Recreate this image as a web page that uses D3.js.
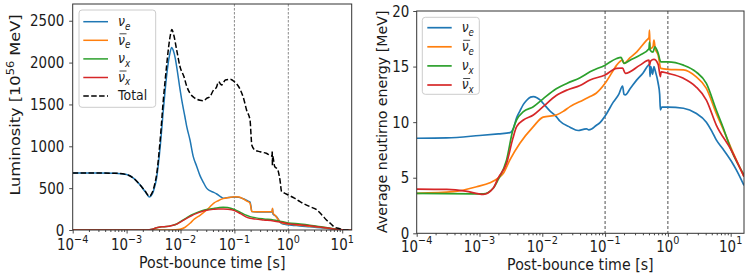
<!DOCTYPE html>
<html><head><meta charset="utf-8">
<script src="https://cdn.jsdelivr.net/npm/d3@7"></script>
<style>body{margin:0;background:#fff} text{font-family:"DejaVu Sans",sans-serif}</style>
</head><body><svg id="c" width="747" height="275"></svg>
<script>
// ---------- Left panel: luminosity [10^56 MeV] ----------
const lumNueT = [1e-4,3e-4,6e-4,1e-3,1.34e-3,1.77e-3,2.2e-3,2.65e-3,3.0e-3,3.3e-3,3.6e-3,4.2e-3,4.8e-3,5.5e-3,6.0e-3,6.4e-3,6.85e-3,7.3e-3,8.0e-3,8.5e-3,9.8e-3,0.0105,0.0121,0.013,0.015,0.0172,0.020,0.023,0.0265,0.0305,0.035,0.041,0.047,0.055,0.062,0.072,0.085,0.1,0.12,0.15,0.18,0.195,0.205,0.21,0.3,0.4,0.5,0.51,0.52,0.56,0.6,0.65,0.7,0.8,1.0,1.3,1.65,2.5,3.4,5,7,10,15];
const lumNueV = [680,680,678,662,620,540,460,395,430,510,620,995,1430,1830,2020,2120,2180,2150,2050,1950,1680,1560,1350,1240,1075,880,760,650,570,500,470,450,430,400,380,385,390,395,390,370,345,335,260,220,215,215,215,255,190,175,160,130,95,70,62,55,48,38,30,20,10,3,0];
const lumNuebT = [1e-4,5e-3,8e-3,9.8e-3,0.012,0.015,0.018,0.023,0.0305,0.035,0.041,0.05,0.062,0.08,0.1,0.12,0.14,0.17,0.195,0.205,0.21,0.3,0.4,0.5,0.51,0.52,0.56,0.6,0.65,0.7,0.8,1.0,1.65,2.5,3.4,5,7,10,15];
const lumNuebV = [0,0,3,8,30,80,130,175,239,275,319,350,375,388,398,395,378,345,320,250,220,218,218,220,260,200,180,155,125,99,80,72,58,45,38,25,12,3,0];
const lumNuxT = [1e-4,2.4e-3,3e-3,3.6e-3,4.5e-3,5.5e-3,7e-3,8.5e-3,0.01,0.013,0.016,0.02,0.025,0.0305,0.041,0.05,0.062,0.075,0.1,0.13,0.16,0.195,0.25,0.35,0.53,0.7,1.0,1.65,2.5,3.4,5,7,10,15];
const lumNuxV = [0,0,10,27,38,42,55,72,100,145,180,208,230,245,258,266,272,268,245,210,180,160,145,132,120,105,85,72,58,45,30,15,3,0];
const lumNuxbT = lumNuxT;
const lumNuxbV = [0,0,10,27,38,42,55,70,95,138,170,198,220,235,247,252,252,248,232,195,160,140,130,120,108,95,75,62,50,40,27,13,3,0];
const lumTotT = [1e-4,3e-4,6e-4,1e-3,1.34e-3,1.77e-3,2.2e-3,2.65e-3,3.0e-3,3.3e-3,3.6e-3,4.2e-3,4.8e-3,5.5e-3,6.0e-3,6.5e-3,6.9e-3,7.5e-3,8.5e-3,0.0098,0.0116,0.013,0.015,0.018,0.023,0.027,0.0305,0.035,0.041,0.046,0.051,0.055,0.058,0.068,0.083,0.1,0.125,0.15,0.168,0.195,0.205,0.21,0.24,0.3,0.39,0.5,0.503,0.507,0.512,0.56,0.6,0.64,0.7,0.75,0.85,1.0,1.3,1.65,2.5,3.4,4.2,5.1,6,7,9,11,15];
const lumTotV = [680,680,678,662,620,540,465,405,450,540,660,1080,1553,1950,2180,2330,2396,2330,2150,1950,1831,1720,1633,1580,1550,1545,1573,1592,1672,1700,1771,1745,1732,1792,1800,1771,1692,1560,1433,1314,1100,1015,955,935,916,884,950,770,884,756,740,717,600,460,440,418,380,338,280,239,180,120,80,40,15,0,0];
const lumTicks = [0,500,1000,1500,2000,2500];

// ---------- Right panel: average neutrino energy [MeV] ----------
const eNueT = [1e-4,3e-4,1e-3,2e-3,3.05e-3,3.5e-3,3.9e-3,4.4e-3,5e-3,5.6e-3,6.5e-3,7.2e-3,8.2e-3,9.2e-3,0.0103,0.0133,0.0167,0.019,0.0276,0.0373,0.045,0.0507,0.055,0.061,0.072,0.083,0.1,0.135,0.165,0.19,0.2,0.21,0.25,0.32,0.4,0.49,0.51,0.52,0.535,0.57,0.6,0.63,0.7,0.74,0.76,0.8,1.0,1.77,2.8,4.1,5,5.9,7.5,10.2,12.3,16.3];
const eNueV = [8.55,8.58,8.8,8.95,9.05,9.5,10.4,11.0,11.6,11.95,12.25,12.3,12.2,12.0,11.7,11.0,10.5,10.1,9.55,9.25,9.35,9.4,9.3,9.38,9.7,9.95,10.55,11.8,12.5,13.25,12.5,12.45,13.0,13.8,14.4,15.13,15.2,14.1,15.0,14.3,15.0,14.6,13.5,12.5,11.1,11.35,11.35,11.25,10.8,10.0,9.2,8.4,7.6,6.5,5.7,4.3];
const eNuebT = [1e-4,3.84e-4,9e-4,1.47e-3,1.97e-3,2.4e-3,3.05e-3,4.4e-3,7.2e-3,1.03e-2,1.67e-2,2.2e-2,2.76e-2,4.5e-2,5.75e-2,7.2e-2,0.1,0.13,0.153,0.19,0.2,0.25,0.32,0.46,0.5,0.51,0.52,0.58,0.6,0.63,0.7,0.77,1.0,1.77,2.8,4.1,5.9,7.5,10.2,16.3];
const eNuebV = [3.6,3.75,4.19,4.55,4.95,5.4,6.6,8.1,9.6,10.45,10.64,11.0,11.4,12.0,12.3,12.6,13.49,14.5,15.13,15.58,15.28,15.8,16.33,17.38,17.6,18.28,16.6,16.8,17.38,16.6,16.03,14.84,14.75,14.7,14.09,13.04,10.79,9.44,7.64,5.1];
const eNuxT = [1e-4,1.15e-3,1.65e-3,1.97e-3,2.7e-3,3.4e-3,3.9e-3,5e-3,7.2e-3,1.03e-2,1.67e-2,2.5e-2,4e-2,5.75e-2,0.1,0.153,0.18,0.2,0.25,0.36,0.5,0.51,0.52,0.58,0.62,0.7,0.77,1.0,1.77,2.8,4.1,5.9,7.5,10.2,16.3];
const eNuxV = [3.6,3.55,4.05,4.8,6.6,9.29,10.2,10.94,11.39,12.1,13.0,13.5,14.0,14.53,15.13,15.73,15.82,15.28,15.58,16.03,16.6,17.2,16.5,16.3,16.78,16.2,15.43,15.43,15.13,14.53,13.49,11.09,9.59,7.49,5.25];
const eNuxbT = [1e-4,3e-4,6e-4,1.15e-3,1.65e-3,1.97e-3,2.7e-3,3.4e-3,3.9e-3,5e-3,7.2e-3,1.03e-2,1.67e-2,2.5e-2,4e-2,5.75e-2,0.1,0.153,0.19,0.21,0.36,0.5,0.51,0.53,0.6,0.7,0.76,0.78,1.0,1.77,2.8,4.1,5.9,10.2,16.3];
const eNuxbV = [3.98,3.95,3.8,3.5,4.05,4.95,6.3,8.54,9.6,10.19,10.64,11.39,12.4,12.9,13.3,13.79,14.24,14.84,14.87,14.39,15.13,15.58,15.1,15.5,15.64,15.2,14.1,14.53,14.39,13.94,13.18,11.99,9.74,7.49,5.1];
const eTicks = [0,5,10,15,20];

const xMajor = [-4,-3,-2,-1,0,1];   // exponents of 10
const vLines = [0.1, 1];

const C = {nue:"#1f77b4", nueb:"#ff7f0e", nux:"#2ca02c", nuxb:"#d62728", tot:"#000"};

const svg = d3.select("#c");
svg.append("rect").attr("width",747).attr("height",275).attr("fill","#fff");
const INK = "#1a1a1a";

function addText(parent, x, y, size, anchor, rot, stretch){
  let tr = `translate(${x},${y})`;
  tr += rot ? ` rotate(${rot}) scale(${stretch},1)` : ` scale(1,${stretch})`;
  return parent.append("text").attr("transform",tr).attr("font-size",size)
    .attr("text-anchor",anchor).attr("fill",INK);
}
function nuLabel(t, sub, size){
  t.append("tspan").attr("font-style","italic").text("ν");
  t.append("tspan").attr("font-style","italic").attr("font-size",size*0.7).attr("dy",size*0.25).text(sub);
}

function panel(cfg){
  const g = svg.append("g");
  const x = d3.scaleLog().domain([1e-4,cfg.xmax]).range([cfg.l,cfg.r]);
  const y = d3.scaleLinear().domain([0,cfg.ymax]).range([cfg.b,cfg.t]);
  const id = "clip"+cfg.name;
  svg.append("clipPath").attr("id",id).append("rect")
    .attr("x",cfg.l).attr("y",cfg.t).attr("width",cfg.r-cfg.l).attr("height",cfg.b-cfg.t);
  const pg = g.append("g").attr("clip-path",`url(#${id})`);
  pg.selectAll("line.v").data(vLines).join("line")
    .attr("x1",d=>x(d)).attr("x2",d=>x(d)).attr("y1",cfg.t).attr("y2",cfg.b)
    .attr("stroke",cfg.vColor).attr("stroke-width",cfg.vWidth).attr("stroke-dasharray",cfg.vDash);
  const line = d3.line().x(d=>x(d[0])).y(d=>y(d[1])).curve(d3.curveMonotoneX);
  cfg.series.forEach(s=>{
    pg.append("path").datum(d3.zip(s.t,s.v)).attr("d",line)
      .attr("fill","none").attr("stroke",s.c).attr("stroke-width",cfg.lw)
      .attr("stroke-linejoin","round")
      .attr("stroke-dasharray",s.dash||null);
  });
  const minors=[];
  for(let e=-4;e<=1;e++) for(let m=2;m<=9;m++){const v=+(m+"e"+e); if(v<=cfg.xmax) minors.push(v);}
  const ax1 = g.append("g").attr("transform",`translate(0,${cfg.b})`)
    .call(d3.axisBottom(x).tickValues(minors).tickSize(2).tickFormat(""));
  ax1.select(".domain").remove();
  const ax2 = g.append("g").attr("transform",`translate(0,${cfg.b})`)
    .call(d3.axisBottom(x).tickValues(xMajor.map(e=>Math.pow(10,e))).tickSize(3.5).tickFormat(""));
  ax2.select(".domain").remove();
  const ay = g.append("g").attr("transform",`translate(${cfg.l},0)`)
    .call(d3.axisLeft(y).tickValues(cfg.yTicks).tickSize(3.5).tickFormat(""));
  ay.select(".domain").remove();
  g.selectAll(".tick line").attr("stroke",INK).attr("stroke-width",0.8);
  g.append("rect").attr("x",cfg.l).attr("y",cfg.t).attr("width",cfg.r-cfg.l).attr("height",cfg.b-cfg.t)
    .attr("fill","none").attr("stroke","#333").attr("stroke-width",1);
  xMajor.forEach(e=>{
    const t = addText(g, x(Math.pow(10,e)), cfg.xLabBase, cfg.tickFs, "middle", 0, cfg.st);
    t.append("tspan").text("10");
    t.append("tspan").attr("font-size",cfg.tickFs*0.72).attr("dy",-6.3).text(e<0?"−"+(-e):String(e));
  });
  cfg.yTicks.forEach(v=>{
    addText(g, cfg.l-cfg.yLabPad, y(v)+5.6, cfg.tickFs, "end", 0, cfg.st).text(String(v));
  });
  addText(g, (cfg.l+cfg.r)/2, cfg.xTitleBase, cfg.titleFs, "middle", 0, cfg.st).text("Post-bounce time [s]");
  const yt = addText(g, cfg.yTitleX, cfg.yTitleY, cfg.titleFs, "middle", -90, cfg.yTitleSt);
  cfg.yTitle(yt);
  const L = cfg.legend;
  g.append("rect").attr("x",L.x).attr("y",L.y).attr("width",L.w).attr("height",L.h).attr("rx",3)
    .attr("fill","#fff").attr("fill-opacity",0.85).attr("stroke","#cccccc").attr("stroke-width",1);
  L.items.forEach((it,i)=>{
    const ry = L.row0 + i*L.dy;
    g.append("line").attr("x1",L.lx0).attr("x2",L.lx1).attr("y1",ry).attr("y2",ry)
      .attr("stroke",it.c).attr("stroke-width",cfg.lw).attr("stroke-dasharray",it.dash||null);
    const t = addText(g, L.tx, ry+4.2, L.fs, "start", 0, cfg.st);
    if(it.sub){
      nuLabel(t, it.sub, L.fs);
      if(it.bar) g.append("line").attr("x1",L.tx+1.5).attr("x2",L.tx+8.5)
        .attr("y1",ry-6.5).attr("y2",ry-6.5).attr("stroke",INK).attr("stroke-width",0.8);
    } else t.text(it.label);
  });
}

panel({
  name:"L", l:72.7, r:351.7, t:4, b:230, xmax:15, ymax:2700, yTicks:lumTicks, lw:1.5,
  vColor:"#8a8a8a", vWidth:1, vDash:"2.5,1.5",
  tickFs:13.4, st:1.17, titleFs:14.2, xLabBase:250, yLabPad:8.5, xTitleBase:268,
  yTitleX:19.5, yTitleY:105, yTitleSt:1.14,
  yTitle: t=>{ t.append("tspan").text("Luminosity [10");
    t.append("tspan").attr("font-size",10).attr("dy",-6).text("56");
    t.append("tspan").attr("dy",6).text(" MeV]"); },
  series:[
    {t:lumNueT, v:lumNueV, c:C.nue},
    {t:lumNuebT, v:lumNuebV, c:C.nueb},
    {t:lumNuxT, v:lumNuxV, c:C.nux},
    {t:lumNuxbT, v:lumNuxbV, c:C.nuxb},
    {t:lumTotT, v:lumTotV, c:C.tot, dash:"5.5,2.4"}
  ],
  legend:{x:79,y:10,w:76.7,h:97.3,row0:21.7,dy:18.6,lx0:83.3,lx1:108,tx:118,fs:12.5,
    items:[{sub:"e",c:C.nue},{sub:"e",bar:1,c:C.nueb},{sub:"x",c:C.nux},{sub:"x",bar:1,c:C.nuxb},{label:"Total",c:C.tot,dash:"5.5,2.4"}]}
});

panel({
  name:"R", l:416.7, r:744, t:11, b:233.3, xmax:16.3, ymax:20, yTicks:eTicks, lw:1.7,
  vColor:"#222", vWidth:0.8, vDash:"3,2",
  tickFs:13.4, st:1.17, titleFs:14.2, xLabBase:251.7, yLabPad:7.3, xTitleBase:270,
  yTitleX:387, yTitleY:121.7, yTitleSt:1.0,
  yTitle: t=>{ t.text("Average neutirno energy [MeV]"); },
  series:[
    {t:eNueT, v:eNueV, c:C.nue},
    {t:eNuebT, v:eNuebV, c:C.nueb},
    {t:eNuxT, v:eNuxV, c:C.nux},
    {t:eNuxbT, v:eNuxbV, c:C.nuxb}
  ],
  legend:{x:422.3,y:17.3,w:57,h:77,row0:27.7,dy:19.1,lx0:427.3,lx1:451.7,tx:461.7,fs:12.3,
    items:[{sub:"e",c:C.nue},{sub:"e",bar:1,c:C.nueb},{sub:"x",c:C.nux},{sub:"x",bar:1,c:C.nuxb}]}
});
</script></body></html>
